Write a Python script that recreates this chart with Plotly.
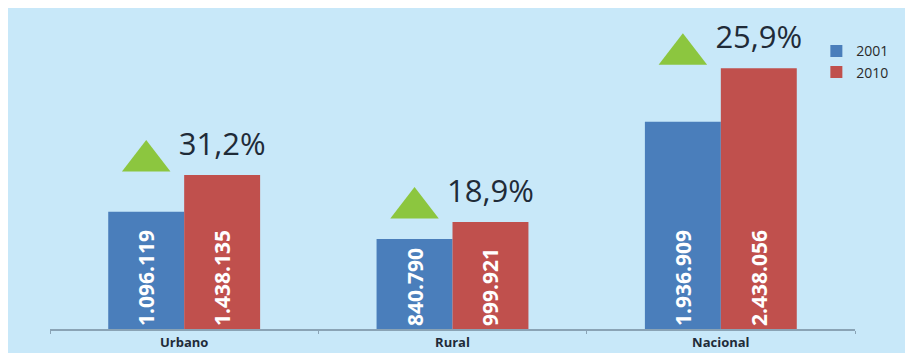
import plotly.graph_objects as go

# Population by area, census 2001 vs 2010
categories = ["Urbano", "Rural", "Nacional"]
pop_2001 = [1096119, 840790, 1936909]
pop_2010 = [1438135, 999921, 2438056]
growth_labels = ["31,2%", "18,9%", "25,9%"]
series_names = ["2001", "2010"]

W, H = 905, 353
M_L, M_R, M_T, M_B = 50, 50, 8, 24
PLOT_H = H - M_T - M_B
Y_MAX = 3_000_000
UNITS_PER_PX = Y_MAX / PLOT_H

BG = "#C8E8F9"
BLUE = "#4A7EBB"
RED = "#C0504D"
GREEN = "#8CC63F"
DARK = "#1F2B38"


def fmt(v):
    return f"{v:,}".replace(",", ".")


fig = go.Figure()

for name, vals, color, grp in [
    (series_names[0], pop_2001, BLUE, "a"),
    (series_names[1], pop_2010, RED, "b"),
]:
    fig.add_trace(go.Bar(
        name=name,
        x=categories,
        y=vals,
        offsetgroup=grp,
        marker=dict(color=color, line=dict(width=0)),
        text=[fmt(v) for v in vals],
        textposition="inside",
        insidetextanchor="start",
        textangle=-90,
        textfont=dict(family="Open Sans", size=21, color="white", weight="bold"),
        cliponaxis=False,
    ))

# green growth triangles above the 2001 bars
fig.add_trace(go.Scatter(
    x=categories,
    y=[v + 14 * UNITS_PER_PX for v in pop_2010],
    mode="markers",
    offsetgroup="a",
    marker=dict(symbol="triangle-up", size=42, color=GREEN, line=dict(width=0)),
    showlegend=False,
    hoverinfo="skip",
    cliponaxis=False,
))

# growth percentages above the 2010 bars
fig.add_trace(go.Scatter(
    x=categories,
    y=[v + 28 * UNITS_PER_PX for v in pop_2010],
    mode="text",
    offsetgroup="b",
    text=growth_labels,
    textposition="middle center",
    textfont=dict(family="Open Sans", size=31, color=DARK),
    showlegend=False,
    hoverinfo="skip",
    cliponaxis=False,
))

PLOT_W = W - M_L - M_R
fig.add_shape(
    type="rect", xref="paper", yref="paper", layer="below",
    x0=(8 - M_L) / PLOT_W, x1=(W - M_L) / PLOT_W,
    y0=-(M_B) / PLOT_H, y1=1.0,
    fillcolor=BG, line=dict(width=0),
)

fig.update_layout(
    width=W,
    height=H,
    margin=dict(l=M_L, r=M_R, t=M_T, b=M_B, pad=0),
    paper_bgcolor="white",
    plot_bgcolor="rgba(0,0,0,0)",
    barmode="group",
    bargap=0.434,
    bargroupgap=0,
    scattermode="group",
    scattergap=0.434,
    showlegend=True,
    legend=dict(
        x=0.952, y=0.915, xanchor="left", yanchor="top",
        bgcolor="rgba(0,0,0,0)",
        font=dict(family="Open Sans", size=14, color="#2A2A2A"),
        itemwidth=30,
        traceorder="normal",
    ),
    xaxis=dict(
        showline=True, linecolor="#8AA3B5", linewidth=2,
        ticks="outside", ticklen=3, tickcolor="#8AA3B5", tickson="boundaries",
        tickfont=dict(family="Open Sans", size=13, color=DARK, weight="bold"),
        ticklabelstandoff=0,
        automargin=False,
        showgrid=False,
    ),
    yaxis=dict(
        range=[0, Y_MAX], visible=False, showgrid=False, zeroline=False,
        automargin=False,
    ),
)

fig.write_html("out.html")
